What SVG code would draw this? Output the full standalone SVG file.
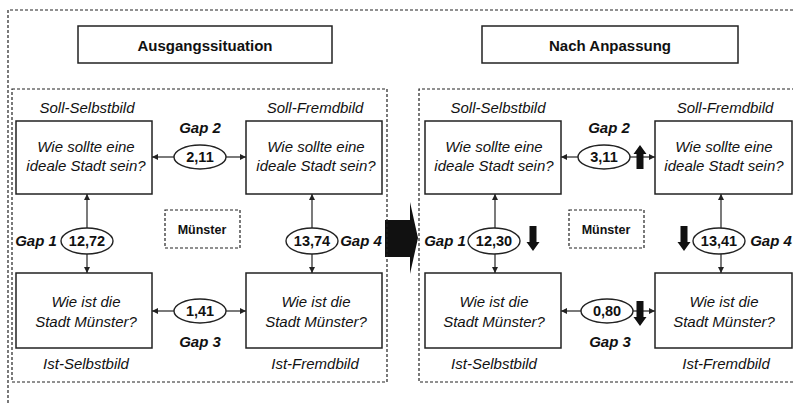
<svg xmlns="http://www.w3.org/2000/svg" width="793" height="403" viewBox="0 0 793 403">
<defs>
<style>
.dash{fill:none;stroke:#222;stroke-width:1.2;stroke-dasharray:3,2}
.box{fill:#fff;stroke:#222;stroke-width:1.5}
.ell{fill:#fff;stroke:#222;stroke-width:1.4}
.con{fill:none;stroke:#222;stroke-width:1.2}
.q{font-family:"Liberation Sans",Arial,sans-serif;font-style:italic;font-size:15px;fill:#111;text-anchor:middle}
.lbl{font-family:"Liberation Sans",Arial,sans-serif;font-style:italic;font-size:15px;fill:#111;text-anchor:middle}
.gap{font-family:"Liberation Sans",Arial,sans-serif;font-style:italic;font-weight:bold;font-size:15px;fill:#111;text-anchor:middle}
.num{font-family:"Liberation Sans",Arial,sans-serif;font-weight:bold;font-size:14.5px;fill:#111;text-anchor:middle}
.title{font-family:"Liberation Sans",Arial,sans-serif;font-weight:bold;font-size:15px;fill:#111;text-anchor:middle}
.city{font-family:"Liberation Sans",Arial,sans-serif;font-weight:bold;font-size:12.5px;fill:#111;text-anchor:middle}
.blk{fill:#111}
</style>
<marker id="ah" viewBox="0 0 10 10" refX="10" refY="5" markerWidth="6" markerHeight="6" markerUnits="userSpaceOnUse" orient="auto">
<path d="M0,0 L10,5 L0,10 z" fill="#222"/>
</marker>
<path id="up" d="M0,0 L6.5,9 L3.5,9 L3.5,24 L-3.5,24 L-3.5,9 L-6.5,9 z"/>
<path id="down" d="M0,0 L6.5,-9 L3.5,-9 L3.5,-25 L-3.5,-25 L-3.5,-9 L-6.5,-9 z"/>
</defs>

<!-- outer frame -->
<path class="dash" d="M8,403 V10 H793"/>

<!-- big transition arrow -->
<g id="transition-arrow">
<path class="blk" d="M385,220 H410 V202 L418,238 L410,274 V257 H385 z"/>
</g>

<!-- LEFT PANEL -->
<g id="title-left"><rect class="box" x="78" y="26" width="254" height="37"/><text class="title" x="205" y="51">Ausgangssituation</text></g>
<g id="panel-left"><rect class="dash" x="12" y="89" width="375" height="293"/></g>

<g id="connectors-left">
<line class="con" x1="174" y1="157" x2="152" y2="157" marker-end="url(#ah)"/>
<line class="con" x1="226" y1="157" x2="246" y2="157" marker-end="url(#ah)"/>
<line class="con" x1="174" y1="311" x2="152" y2="311" marker-end="url(#ah)"/>
<line class="con" x1="226" y1="311" x2="246" y2="311" marker-end="url(#ah)"/>
<line class="con" x1="87" y1="228" x2="87" y2="194" marker-end="url(#ah)"/>
<line class="con" x1="87" y1="254" x2="87" y2="273" marker-end="url(#ah)"/>
<line class="con" x1="312" y1="228" x2="312" y2="194" marker-end="url(#ah)"/>
<line class="con" x1="312" y1="254" x2="312" y2="273" marker-end="url(#ah)"/>
</g>

<g id="L-soll-selbst"><text class="lbl" x="87" y="113">Soll-Selbstbild</text><rect class="box" x="16" y="121" width="136" height="73"/><text class="q" x="86" y="152">Wie sollte eine</text><text class="q" x="86" y="171">ideale Stadt sein?</text></g>
<g id="L-soll-fremd"><text class="lbl" x="315" y="113">Soll-Fremdbild</text><rect class="box" x="246" y="121" width="136" height="73"/><text class="q" x="316" y="152">Wie sollte eine</text><text class="q" x="316" y="171">ideale Stadt sein?</text></g>
<g id="L-ist-selbst"><rect class="box" x="16" y="273" width="136" height="75"/><text class="q" x="86" y="307">Wie ist die</text><text class="q" x="86" y="327">Stadt Münster?</text><text class="lbl" x="86" y="369">Ist-Selbstbild</text></g>
<g id="L-ist-fremd"><rect class="box" x="246" y="273" width="136" height="75"/><text class="q" x="316" y="307">Wie ist die</text><text class="q" x="316" y="327">Stadt Münster?</text><text class="lbl" x="315" y="369">Ist-Fremdbild</text></g>
<g id="L-muenster"><rect class="dash" x="165" y="210" width="75" height="38"/><text class="city" x="202" y="234">Münster</text></g>

<g id="L-gap2"><text class="gap" x="200" y="133">Gap 2</text><ellipse class="ell" cx="200" cy="157" rx="26" ry="12"/><text class="num" x="200" y="162">2,11</text></g>
<g id="L-gap3"><ellipse class="ell" cx="200" cy="311" rx="26" ry="12"/><text class="num" x="200" y="316">1,41</text><text class="gap" x="200" y="347">Gap 3</text></g>
<g id="L-gap1"><text class="gap" x="36" y="246">Gap 1</text><ellipse class="ell" cx="87" cy="241" rx="26" ry="13"/><text class="num" x="87" y="246">12,72</text></g>
<g id="L-gap4"><ellipse class="ell" cx="312" cy="241" rx="26" ry="13"/><text class="num" x="312" y="246">13,74</text><text class="gap" x="361" y="246">Gap 4</text></g>

<!-- RIGHT PANEL -->
<g id="title-right"><rect class="box" x="482" y="26" width="256" height="37"/><text class="title" x="610" y="51">Nach Anpassung</text></g>
<g id="panel-right"><path class="dash" d="M800,89 H419 V382 H800"/></g>

<g id="connectors-right">
<line class="con" x1="578" y1="157" x2="561" y2="157" marker-end="url(#ah)"/>
<line class="con" x1="630" y1="157" x2="655" y2="157" marker-end="url(#ah)"/>
<line class="con" x1="581" y1="311" x2="561" y2="311" marker-end="url(#ah)"/>
<line class="con" x1="633" y1="311" x2="655" y2="311" marker-end="url(#ah)"/>
<line class="con" x1="495" y1="228" x2="495" y2="194" marker-end="url(#ah)"/>
<line class="con" x1="495" y1="254" x2="495" y2="273" marker-end="url(#ah)"/>
<line class="con" x1="721" y1="228" x2="721" y2="194" marker-end="url(#ah)"/>
<line class="con" x1="721" y1="254" x2="721" y2="273" marker-end="url(#ah)"/>
</g>

<g id="R-soll-selbst"><text class="lbl" x="498" y="113">Soll-Selbstbild</text><rect class="box" x="425" y="121" width="136" height="73"/><text class="q" x="494" y="152">Wie sollte eine</text><text class="q" x="494" y="171">ideale Stadt sein?</text></g>
<g id="R-soll-fremd"><text class="lbl" x="725" y="113">Soll-Fremdbild</text><rect class="box" x="655" y="121" width="137" height="73"/><text class="q" x="724" y="152">Wie sollte eine</text><text class="q" x="724" y="171">ideale Stadt sein?</text></g>
<g id="R-ist-selbst"><rect class="box" x="425" y="273" width="136" height="75"/><text class="q" x="494" y="307">Wie ist die</text><text class="q" x="494" y="327">Stadt Münster?</text><text class="lbl" x="494" y="369">Ist-Selbstbild</text></g>
<g id="R-ist-fremd"><rect class="box" x="655" y="273" width="137" height="75"/><text class="q" x="724" y="307">Wie ist die</text><text class="q" x="724" y="327">Stadt Münster?</text><text class="lbl" x="726" y="369">Ist-Fremdbild</text></g>
<g id="R-muenster"><rect class="dash" x="569" y="210" width="75" height="38"/><text class="city" x="606" y="234">Münster</text></g>

<g id="R-gap2"><text class="gap" x="609" y="133">Gap 2</text><ellipse class="ell" cx="604" cy="157" rx="26" ry="12"/><text class="num" x="604" y="162">3,11</text><use href="#up" class="blk" x="640" y="145"/></g>
<g id="R-gap3"><ellipse class="ell" cx="607" cy="311" rx="26" ry="12"/><text class="num" x="607" y="316">0,80</text><use href="#down" class="blk" x="640" y="326"/><text class="gap" x="610" y="347">Gap 3</text></g>
<g id="R-gap1"><text class="gap" x="445" y="246">Gap 1</text><ellipse class="ell" cx="494" cy="241" rx="26" ry="13"/><text class="num" x="494" y="246">12,30</text><use href="#down" class="blk" x="533" y="251"/></g>
<g id="R-gap4"><use href="#down" class="blk" x="684" y="251"/><ellipse class="ell" cx="719" cy="241" rx="26" ry="13"/><text class="num" x="719" y="246">13,41</text><text class="gap" x="771" y="246">Gap 4</text></g>
</svg>
